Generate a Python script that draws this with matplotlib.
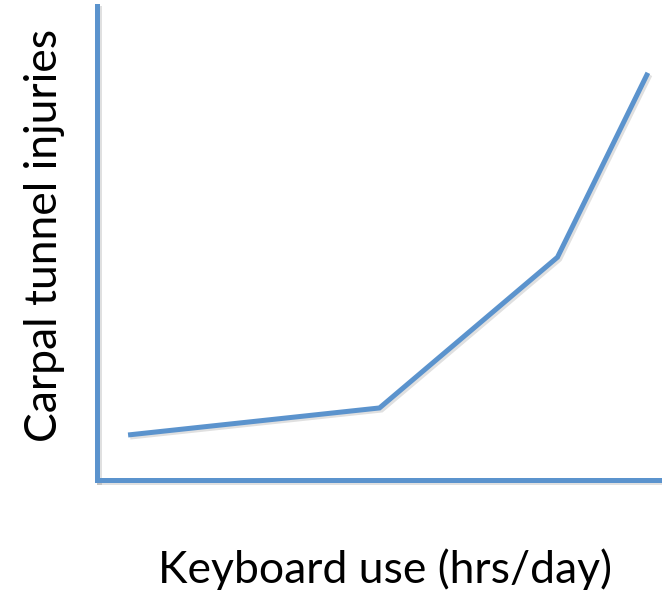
import matplotlib.pyplot as plt
import matplotlib.patheffects as pe

hours = [0.55, 5.0, 8.15, 9.75]
injuries = [0.95, 1.52, 4.7, 8.59]

blue = '#5B93CD'
shadow = [pe.SimpleLineShadow(offset=(1.5, -1.5), shadow_color='k', alpha=0.12), pe.Normal()]

fig = plt.figure(figsize=(6.62, 5.90), dpi=100)
ax = fig.add_axes([97 / 662, 110 / 590, 565 / 662, 474 / 590])

ax.plot(hours, injuries, color=blue, linewidth=3.6, solid_joinstyle='miter',
        solid_capstyle='butt', path_effects=shadow)

ax.set_xlim(0, 10)
ax.set_ylim(0, 10)
ax.set_xticks([])
ax.set_yticks([])
for side in ('top', 'right'):
    ax.spines[side].set_visible(False)
for side in ('left', 'bottom'):
    ax.spines[side].set_color(blue)
    ax.spines[side].set_linewidth(3.6)
    ax.spines[side].set_path_effects(shadow)

fig.text(385 / 662, 1 - 570 / 590, 'Keyboard use (hrs/day)', family='Lato',
         fontsize=32, ha='center', va='center')
fig.text(45 / 662, 1 - 235 / 590, 'Carpal tunnel injuries', family='Lato',
         fontsize=32, ha='center', va='center', rotation=90)

fig.savefig('out.png', dpi=100)
